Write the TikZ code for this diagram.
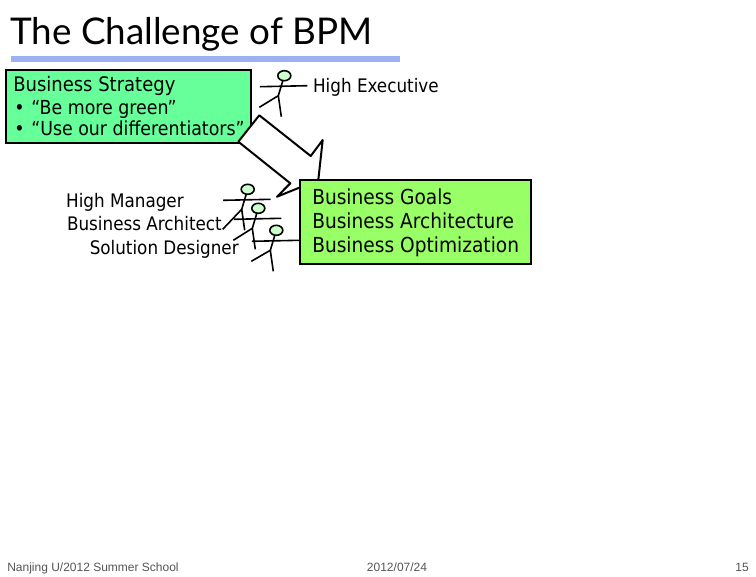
\documentclass[tikz,border=0pt]{standalone}
\usepackage{fontspec}
\setmainfont{DejaVu Sans Condensed}
\newfontfamily\titlefont{Lato}
\newfontfamily\footfont{Liberation Sans}
\usepackage{xcolor}
\usetikzlibrary{positioning}
\definecolor{strategy}{RGB}{102,255,153}
\definecolor{goals}{RGB}{153,255,102}
\definecolor{rulebar}{RGB}{157,176,240}
\definecolor{headfill}{RGB}{204,255,204}
\definecolor{footgray}{RGB}{85,85,85}

\begin{document}
\begin{tikzpicture}[
  x=0.75pt, y=-0.75pt,
  box/.style={draw=black, line width=1.5pt, anchor=north west, inner sep=0pt},
  label/.style={anchor=base west, inner sep=0pt},
  bigtext/.style={label, font=\fontsize{15.5}{18}\selectfont},
  bullet/.style={label, font=\fontsize{14.5}{17}\selectfont},
  role/.style={anchor=base east, inner sep=0pt, font=\fontsize{14}{17}\selectfont},
  foot/.style={anchor=base, inner sep=0pt, font=\footfont\fontsize{9}{11}\selectfont, text=footgray},
  pics/stickfig/.style={code={
    \draw[line width=1.2pt, fill=headfill] (0,0) ellipse [x radius=6.5, y radius=5];
    \draw[line width=1.2pt] (-24.5,11) -- (23,10);
    \draw[line width=1.2pt] (-1.5,5) -- (-6,20) -- (-25,#1);
    \draw[line width=1.2pt] (-6,20) -- (-3,41);
  }}
]
\useasboundingbox (0,0) rectangle (756,576);

\node[label, font=\titlefont\fontsize{27.6}{30}\selectfont] (title) at (10,44) {The Challenge of BPM};
\fill[rulebar] (11,56) rectangle (400,62);

\node[box, fill=strategy, minimum width=183.75pt, minimum height=54.75pt] (strategy) at (5,69) {};
\node[label, font=\fontsize{15}{18}\selectfont] (strategytitle) at (13,91) {Business Strategy};
\node[bullet] (green) at (14,114) {\makebox[12.75pt][l]{•}“Be more green”};
\node[bullet] (diff)  at (14,135) {\makebox[12.75pt][l]{•}“Use our differentiators”};

% block arrow
\draw[line width=1.5pt, fill=white, line join=round]
  (259.3,115.3) -- (310.7,156) -- (322.7,140) -- (318.3,180) -- (277,196.7)
  -- (290.3,183.3) -- (238.3,141.7) -- cycle;

\node[box, fill=goals, minimum width=173.25pt, minimum height=63pt] (goals) at (299,179) {};
\node[bigtext] (goalsone)   at (312,204) {Business Goals};
\node[bigtext] (goalstwo)   at (312,228) {Business Architecture};
\node[bigtext] (goalsthree) at (312,252) {Business Optimization};

\pic at (284.3,75.7)  {stickfig=31.6};
\pic at (247.7,189.3) {stickfig=40};
\pic at (258.3,208.3) {stickfig=32};
\pic at (276.3,230.3) {stickfig=31};

\node[role] (exec)      at (439,92)  {High Executive};
\node[role] (manager)   at (184,207) {High Manager};
\node[role] (architect) at (222,230) {Business Architect};
\node[role] (designer)  at (239,254) {Solution Designer};

\node[foot, anchor=base west] (school) at (7,571)   {Nanjing U/2012 Summer School};
\node[foot] (date) at (397,571) {2012/07/24};
\node[foot, anchor=base east] (page) at (749,571) {15};

\end{tikzpicture}
\end{document}
